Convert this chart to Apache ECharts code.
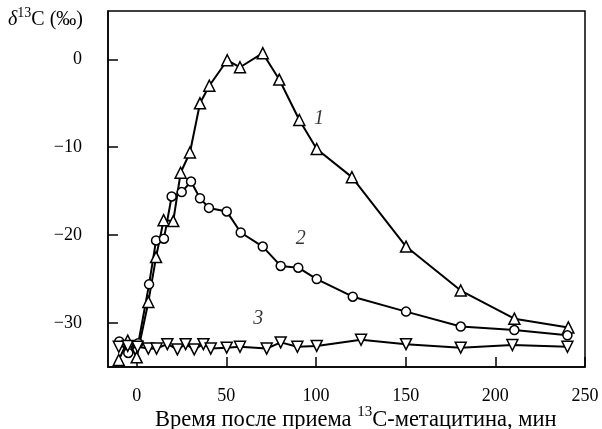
<!DOCTYPE html>
<html>
<head>
<meta charset="utf-8">
<script src="https://cdn.jsdelivr.net/npm/echarts@6/dist/echarts.min.js"></script>
<style>html,body{margin:0;padding:0;background:#fff}#c{width:602px;height:429px}</style>
</head>
<body>
<div id="c"></div>
<script>
const series1 = [[-10,-34.2],[-5,-32.0],[0,-33.9],[6.5,-27.6],[10.8,-22.5],[15,-18.3],[20.4,-18.4],[24.5,-12.9],[29.7,-10.6],[35.3,-5.0],[40.5,-3.0],[50.5,-0.1],[57.6,-0.9],[70.3,0.7],[79.5,-2.3],[90.7,-6.9],[100.4,-10.2],[120,-13.4],[150.2,-21.3],[180.7,-26.3],[210.6,-29.5],[240.7,-30.5]];
const series2 = [[-9.7,-32.1],[-4.7,-33.4],[0.9,-32.3],[6.9,-25.6],[10.8,-20.6],[15.2,-20.4],[19.5,-15.6],[25.1,-15.1],[30.3,-13.9],[35.3,-15.8],[40.3,-16.9],[50.2,-17.3],[58,-19.7],[70.3,-21.3],[80.3,-23.5],[90.1,-23.7],[100.4,-25.0],[120.5,-27.0],[150.2,-28.7],[180.7,-30.4],[210.6,-30.8],[240.2,-31.4]];
const series3 = [[-10,-32.7],[-5,-32.6],[0.5,-32.7],[6.5,-32.9],[11.1,-32.9],[17.1,-32.4],[22.7,-33.0],[27.3,-32.4],[32.1,-33.0],[37.2,-32.4],[41.3,-32.9],[50.2,-32.8],[57.6,-32.7],[72.5,-32.9],[80.3,-32.2],[89.6,-32.7],[100.4,-32.6],[125.1,-31.9],[150.2,-32.4],[180.7,-32.8],[209.5,-32.5],[240.2,-32.7]];
const xTicks = [0, 50, 100, 150, 200, 250];
const yTicks = [-30, -20, -10, 0];
const seriesLabels = ['1', '2', '3'];
const labelPos = [[101.7, -6.8], [91.5, -20.4], [67.8, -29.5]];

const FONT = '"Liberation Serif", "DejaVu Serif", serif';
const chart = echarts.init(document.getElementById('c'));
function lineSeries(data, rot, symbol) {
  return {
    type: 'line', data: data, symbol: symbol, symbolSize: symbol === 'circle' ? 9 : 11,
    symbolRotate: rot, showAllSymbols: true,
    lineStyle: { color: '#000', width: 2 },
    itemStyle: { color: '#fff', borderColor: '#000', borderWidth: 1.5 },
    z: 3, animation: false
  };
}
chart.setOption({
  animation: false,
  grid: { left: 108, right: 17, top: 11, bottom: 62, show: true, borderColor: '#000', borderWidth: 1.5 },
  xAxis: {
    type: 'value', min: -16, max: 250,
    axisLine: { show: true, onZero: false, lineStyle: { color: '#000', width: 1.5 } },
    axisTick: { show: true, inside: true, length: 10, customValues: xTicks, lineStyle: { color: '#000', width: 1.5 } },
    axisLabel: { customValues: xTicks, color: '#000', fontFamily: FONT, fontSize: 18, margin: 20 },
    splitLine: { show: false }
  },
  yAxis: {
    type: 'value', min: -35, max: 5.5,
    axisLine: { show: true, onZero: false, lineStyle: { color: '#000', width: 1.5 } },
    axisTick: { show: true, inside: true, length: 10, customValues: yTicks, lineStyle: { color: '#000', width: 1.5 } },
    axisLabel: { customValues: yTicks, color: '#000', fontFamily: FONT, fontSize: 18, margin: 26,
      formatter: v => String(v).replace('-', '\u2212') },
    splitLine: { show: false }
  },
  series: [
    lineSeries(series1, 0, 'triangle'),
    lineSeries(series2, 0, 'circle'),
    lineSeries(series3, 180, 'triangle'),
    {
      type: 'scatter', symbolSize: 0, silent: true,
      data: labelPos.map((p, i) => ({ value: p, name: seriesLabels[i] })),
      label: { show: true, position: 'inside', formatter: p => p.name, color: '#000',
        fontFamily: FONT, fontStyle: 'italic', fontSize: 20 }
    }
  ],
  graphic: [
    { type: 'text', left: 8, top: 6, style: {
      text: '{d|δ}{s|13}{n|C (‰)}', fill: '#000',
      rich: { d: { fontFamily: FONT, fontStyle: 'italic', fontSize: 20, lineHeight: 28 }, s: { fontFamily: FONT, fontSize: 14, verticalAlign: 'top', lineHeight: 16 }, n: { fontFamily: FONT, fontSize: 20, lineHeight: 28 } } } },
    { type: 'text', left: 155, top: 405, style: {
      text: '{n|Время после приема }{s|13}{n|C-метацитина, мин}', fill: '#000',
      rich: { n: { fontFamily: FONT, fontSize: 22.5, lineHeight: 30 }, s: { fontFamily: FONT, fontSize: 15, verticalAlign: 'top', lineHeight: 18 } } } }
  ]
});
</script>
</body>
</html>
